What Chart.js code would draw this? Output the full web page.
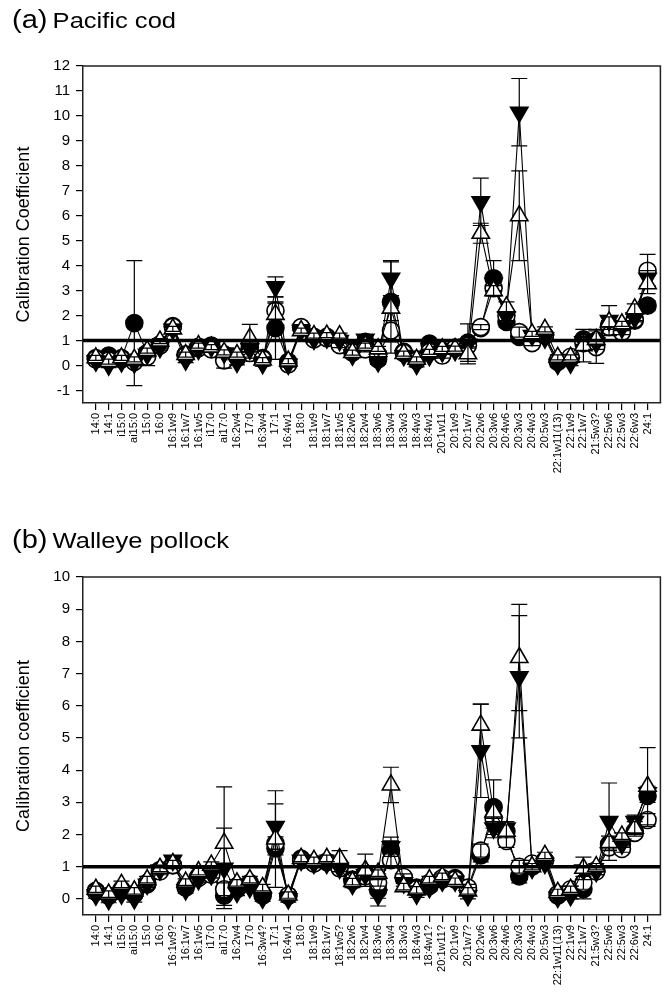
<!DOCTYPE html>
<html><head><meta charset="utf-8">
<script src="https://cdn.jsdelivr.net/npm/chart.js@4.4.1/dist/chart.umd.min.js"></script>
<style>
body{margin:0;background:#fff;width:672px;height:992px;position:relative;overflow:hidden;font-family:"Liberation Sans",Arial,Helvetica,sans-serif;}
.t{position:absolute;left:12px;color:#000;white-space:nowrap;line-height:1;transform:scaleX(1.16);transform-origin:0 0;z-index:2}
.t .p{font-size:25px}
.t .n{font-size:22px}
canvas{position:absolute;left:0}
</style></head><body>
<div class="t" style="top:7px"><span class="p">(a)</span> <span class="n">Pacific cod</span></div>
<div class="t" style="top:527px"><span class="p">(b)</span> <span class="n">Walleye pollock</span></div>
<canvas id="ca" width="672" height="520" style="top:0"></canvas>
<canvas id="cb" width="672" height="472" style="top:520px"></canvas>
<script>
// ---------- categories ----------
const catsA = ["14:0","14:1","i15:0","ai15:0","15:0","16:0","16:1w9","16:1w7","16:1w5","i17:0","ai17:0","16:2w4","17:0","16:3w4","17:1","16:4w1","18:0","18:1w9","18:1w7","18:1w5","18:2w6","18:2w4","18:3w6","18:3w4","18:3w3","18:4w3","18:4w1","20:1w11","20:1w9","20:1w7","20:2w6","20:3w6","20:4w6","20:3w3","20:4w3","20:5w3","22:1w11(13)","22:1w9","22:1w7","21:5w3?","22:5w6","22:5w3","22:6w3","24:1"];
const catsB = ["14:0","14:1","i15:0","ai15:0","15:0","16:0","16:1w9?","16:1w7","16:1w5","i17:0","ai17:0","16:2w4","17:0","16:3w4?","17:1","16:4w1","18:0","18:1w9","18:1w7","18:1w5?","18:2w6","18:2w4","18:3w6","18:3w4","18:3w3","18:4w3","18:4w1?","20:1w11?","20:1w9","20:1w7?","20:2w6","20:3w6","20:4w6","20:3w3","20:4w3","20:5w3","22:1w11(13)","22:1w9","22:1w7","21:5w3?","22:5w6","22:5w3","22:6w3","24:1"];

// ---------- tick labels ----------
const yTicksA = [-1,0,1,2,3,4,5,6,7,8,9,10,11,12];
const yTicksB = [0,1,2,3,4,5,6,7,8,9,10];

// ---------- (a) Pacific cod ----------
const codFilledCircle  = [0.30,0.40,0.30,1.70,0.50,0.85,1.58,0.45,0.75,0.80,0.45,0.30,0.70,0.30,1.50,0.15,1.52,1.15,1.15,1.00,0.60,0.95,0.25,2.55,0.55,0.25,0.88,0.60,0.72,0.92,1.50,3.50,1.75,1.15,0.95,1.20,0.15,0.30,1.05,1.00,1.60,1.50,1.80,2.40];
const codOpenCircle    = [0.25,0.20,0.25,0.15,0.35,0.80,1.55,0.40,0.70,0.65,0.20,0.35,0.50,0.25,2.20,0.05,1.54,1.05,1.10,0.82,0.52,0.65,0.45,1.40,0.50,0.20,0.55,0.40,0.70,0.80,1.54,3.10,2.00,1.34,0.90,1.20,0.20,0.35,0.90,0.74,1.55,1.34,1.85,3.80];
const codFilledTri     = [0.18,0.02,0.15,0.10,0.45,0.72,1.45,0.22,0.65,0.75,0.50,0.13,0.65,0.08,3.15,0.05,1.40,1.05,1.10,1.00,0.42,1.05,0.15,3.50,0.40,0.05,0.40,0.55,0.60,0.85,6.56,3.30,1.95,10.15,1.20,1.10,0.05,0.10,0.95,0.90,1.80,1.50,1.90,3.50];
const codOpenTri       = [0.31,0.16,0.31,0.25,0.60,0.98,1.47,0.44,0.80,0.74,0.53,0.44,1.10,0.22,2.05,0.18,1.40,1.20,1.22,1.20,0.52,0.80,0.67,2.30,0.48,0.25,0.55,0.67,0.68,0.47,5.30,3.00,2.35,6.00,1.27,1.45,0.33,0.33,0.80,1.05,1.75,1.67,2.27,3.28];
const codFilledCircleSD= [0.10,0.10,0.10,2.50,0.10,0.10,0.10,0.10,0.10,0.10,0.20,0.10,0.10,0.10,1.25,0.10,0.10,0.10,0.10,0.10,0.10,0.25,0.10,1.60,0.10,0.10,0.10,0.10,0.10,0.75,0.10,0.70,0.20,0.20,0.10,0.10,0.10,0.10,0.10,0.10,0.20,0.10,0.10,0.20];
const codOpenCircleSD  = [0.10,0.10,0.10,0.10,0.35,0.10,0.10,0.10,0.10,0.10,0.30,0.10,0.20,0.10,0.30,0.10,0.10,0.10,0.10,0.10,0.10,0.10,0.10,0.90,0.10,0.10,0.10,0.10,0.10,0.10,0.10,0.30,0.20,0.20,0.10,0.10,0.10,0.10,0.10,0.65,0.10,0.10,0.10,0.65];
const codFilledTriSD   = [0.10,0.10,0.10,0.10,0.10,0.10,0.10,0.10,0.10,0.10,0.10,0.10,0.10,0.10,0.40,0.10,0.10,0.10,0.10,0.10,0.10,0.10,0.10,0.70,0.10,0.10,0.10,0.10,0.10,0.10,0.95,0.30,0.20,1.35,0.10,0.10,0.10,0.10,0.10,0.10,0.60,0.10,0.10,0.30];
const codOpenTriSD     = [0.10,0.10,0.10,0.10,0.10,0.10,0.10,0.10,0.10,0.10,0.10,0.10,0.55,0.10,0.50,0.10,0.10,0.10,0.10,0.10,0.10,0.10,0.10,0.50,0.10,0.10,0.10,0.10,0.10,0.40,0.40,0.20,0.20,1.80,0.10,0.10,0.10,0.10,0.65,0.40,0.20,0.10,0.20,0.40];

// ---------- (b) Walleye pollock ----------
const polFilledCircle  = [0.25,0.10,0.25,0.15,0.45,0.90,1.05,0.35,0.70,0.80,0.10,0.30,0.50,0.10,1.57,0.10,1.25,1.10,1.15,1.05,0.60,0.80,0.28,1.50,0.65,0.35,0.40,0.60,0.65,0.30,1.35,2.85,2.10,0.70,1.00,1.20,0.10,0.25,0.30,0.90,1.70,1.70,2.10,3.20];
const polOpenCircle    = [0.22,0.10,0.30,0.15,0.50,0.85,1.05,0.40,0.65,0.75,0.30,0.40,0.45,0.15,1.73,0.10,1.20,1.10,1.15,0.95,0.55,0.70,0.50,1.20,0.68,0.30,0.50,0.65,0.60,0.35,1.50,2.50,1.80,1.00,1.10,1.20,0.15,0.30,0.50,0.85,1.60,1.55,2.05,2.45];
const polFilledTri     = [0.12,-0.02,0.15,0.00,0.45,0.90,1.20,0.28,0.60,0.75,0.95,0.20,0.35,0.02,2.25,0.00,1.20,1.10,1.10,0.95,0.45,0.75,0.12,1.62,0.50,0.15,0.35,0.55,0.55,0.10,4.60,2.20,2.20,6.90,0.95,1.10,0.05,0.10,0.90,0.85,2.40,1.70,2.40,3.30];
const polOpenTri       = [0.30,0.15,0.45,0.25,0.60,0.95,1.10,0.52,0.85,1.05,1.73,0.50,0.60,0.35,1.86,0.12,1.26,1.20,1.26,1.25,0.54,0.89,0.80,3.54,0.38,0.28,0.60,0.70,0.55,0.25,5.40,2.70,2.10,7.50,1.00,1.35,0.20,0.30,0.95,1.00,1.75,1.95,2.20,3.50];
const polFilledCircleSD= [0.10,0.10,0.10,0.10,0.10,0.10,0.10,0.10,0.10,0.10,0.30,0.10,0.10,0.10,0.20,0.10,0.10,0.10,0.10,0.10,0.10,0.10,0.50,0.30,0.10,0.10,0.10,0.10,0.10,0.10,0.20,0.85,0.20,0.20,0.10,0.10,0.10,0.10,0.30,0.10,0.10,0.10,0.10,0.20];
const polOpenCircleSD  = [0.10,0.10,0.10,0.10,0.10,0.10,0.10,0.10,0.10,0.10,0.20,0.10,0.10,0.10,0.20,0.10,0.10,0.10,0.10,0.10,0.10,0.10,0.10,0.20,0.10,0.10,0.10,0.10,0.10,0.10,0.20,0.30,0.20,0.20,0.10,0.10,0.10,0.10,0.20,0.10,0.10,0.10,0.10,0.20];
const polFilledTriSD   = [0.10,0.10,0.10,0.10,0.10,0.10,0.10,0.10,0.10,0.10,1.25,0.10,0.10,0.10,0.70,0.10,0.10,0.10,0.10,0.10,0.10,0.10,0.10,0.30,0.10,0.10,0.10,0.10,0.10,0.10,1.45,0.30,0.20,1.90,0.10,0.10,0.10,0.10,0.10,0.10,1.20,0.10,0.20,0.20];
const polOpenTriSD     = [0.10,0.10,0.10,0.10,0.10,0.10,0.10,0.10,0.10,0.10,1.75,0.10,0.10,0.10,1.50,0.10,0.10,0.10,0.10,0.25,0.10,0.50,0.10,0.55,0.10,0.10,0.10,0.10,0.10,0.10,0.65,0.30,0.20,1.65,0.10,0.10,0.10,0.10,0.35,0.10,0.20,0.10,0.20,1.20];

const FONT = '"Liberation Sans", Arial, Helvetica, sans-serif';

const errorBars = {
  id: 'errorBars',
  afterDatasetDraw(chart, args) {
    const ds = chart.data.datasets[args.index];
    if (!ds.sd) return;
    const ctx = chart.ctx, xs = chart.scales.x, ys = chart.scales.y;
    ctx.save();
    ctx.strokeStyle = '#000';
    ctx.lineWidth = 1.2;
    ds.data.forEach((p, i) => {
      const e = ds.sd[i];
      if (!e) return;
      const x = xs.getPixelForValue(p.x);
      const yt = ys.getPixelForValue(p.y + e);
      const yb = ys.getPixelForValue(p.y - e);
      ctx.beginPath();
      ctx.moveTo(x, yt); ctx.lineTo(x, yb);
      ctx.moveTo(x - 8, yt); ctx.lineTo(x + 8, yt);
      ctx.moveTo(x - 8, yb); ctx.lineTo(x + 8, yb);
      ctx.stroke();
    });
    ctx.restore();
  }
};
const frame = {
  id: 'frame',
  afterDraw(chart) {
    const a = chart.chartArea, ctx = chart.ctx;
    ctx.save();
    ctx.strokeStyle = '#222';
    ctx.lineWidth = 1.5;
    ctx.beginPath();
    ctx.moveTo(a.left, a.top); ctx.lineTo(a.right, a.top); ctx.lineTo(a.right, a.bottom);
    ctx.stroke();
    ctx.restore();
  }
};

function series(vals, sd, style, rot, fill, order) {
  return {
    type: 'line',
    data: vals.map((v, i) => ({x: i, y: v})),
    sd: sd,
    borderColor: '#000', borderWidth: 1.1,
    pointStyle: style, rotation: rot,
    pointRadius: style === 'circle' ? 8.5 : 10,
    pointBackgroundColor: fill, pointBorderColor: '#000', pointBorderWidth: 1.6,
    tension: 0, fill: false, order: order
  };
}

function make(id, cats, fc, oc, ft, ot, fcSD, ocSD, ftSD, otSD, yMin, yMax, yTicks, yTitle, padTop, xH) {
  const n = cats.length;
  new Chart(document.getElementById(id), {
    type: 'line',
    data: {
      datasets: [
        {type:'line', data:[{x:-1,y:1},{x:n,y:1}], borderColor:'#000', borderWidth:3.5, pointRadius:0, order:-1},
        series(ot, otSD, 'triangle', 0, '#fff', 0),
        series(ft, ftSD, 'triangle', 180, '#000', 1),
        series(oc, ocSD, 'circle', 0, '#fff', 2),
        series(fc, fcSD, 'circle', 0, '#000', 3)
      ]
    },
    options: {
      responsive: false, animation: false, devicePixelRatio: 1,
      layout: {padding: {top: padTop, right: 7, left: 0, bottom: 0}},
      plugins: {legend: {display: false}, tooltip: {enabled: false}},
      scales: {
        x: {
          type: 'linear', min: -1, max: n,
          afterBuildTicks: s => { s.ticks = cats.map((_, i) => ({value: i})); },
          afterFit: s => { s.height = xH; },
          ticks: {autoSkip: false, minRotation: 90, maxRotation: 90, padding: 3,
                  font: {family: FONT, size: 11}, color: '#000',
                  callback: v => cats[v]},
          grid: {drawOnChartArea: false, drawTicks: true, tickLength: 7, color: '#000', lineWidth: 1.2},
          border: {display: true, color: '#222', width: 1.5}
        },
        y: {
          min: yMin, max: yMax,
          afterBuildTicks: s => { s.ticks = yTicks.map(v => ({value: v})); },
          afterFit: s => { s.width = 83; },
          ticks: {padding: 6, font: {family: FONT, size: 15}, color: '#000'},
          grid: {drawOnChartArea: false, drawTicks: true, tickLength: 7, color: '#000', lineWidth: 1.2},
          border: {display: true, color: '#222', width: 1.5},
          title: {display: true, text: yTitle, color: '#000', font: {family: FONT, size: 18}, padding: {top: 13, bottom: 0}}
        }
      }
    },
    plugins: [errorBars, frame]
  });
}

make('ca', catsA, codFilledCircle, codOpenCircle, codFilledTri, codOpenTri,
     codFilledCircleSD, codOpenCircleSD, codFilledTriSD, codOpenTriSD,
     -1.5, 12, yTicksA, 'Calibration Coefficient', 66, 117);
make('cb', catsB, polFilledCircle, polOpenCircle, polFilledTri, polOpenTri,
     polFilledCircleSD, polOpenCircleSD, polFilledTriSD, polOpenTriSD,
     -0.5, 10, yTicksB, 'Calibration coefficient', 57, 77);
</script>
</body></html>
